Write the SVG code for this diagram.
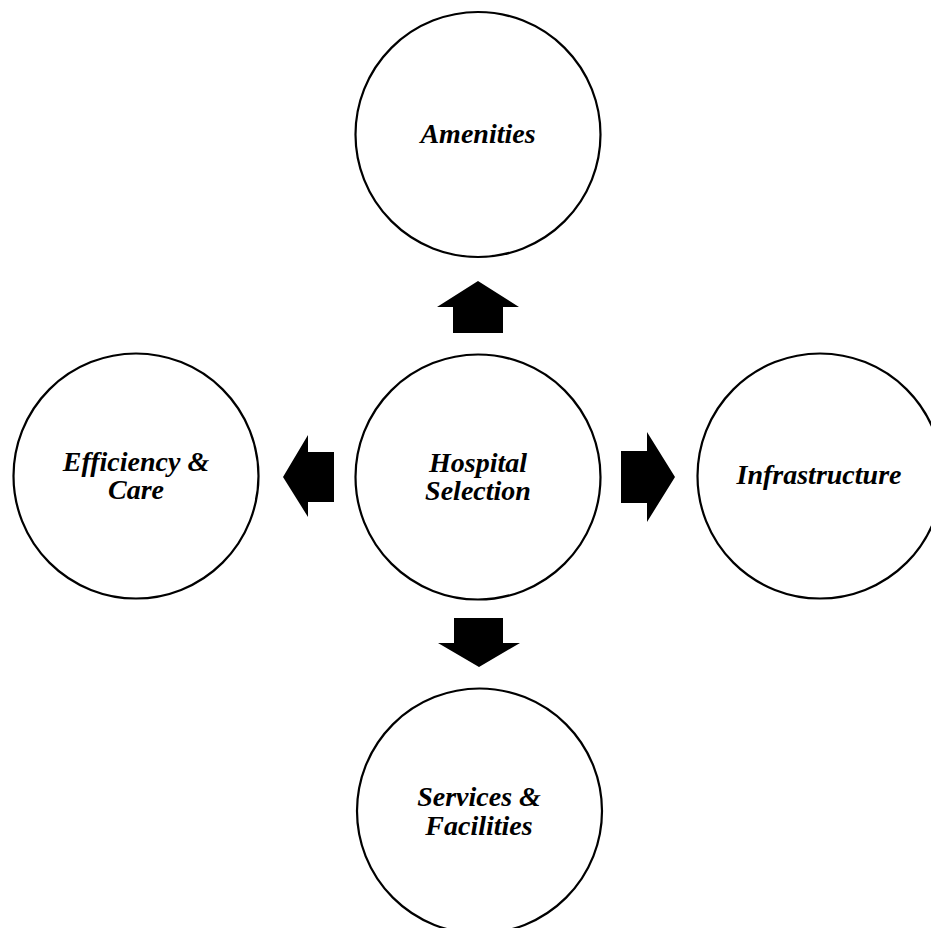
<svg xmlns="http://www.w3.org/2000/svg" width="931" height="928" viewBox="0 0 931 928">
<style>
.node circle{fill:#fff;stroke:#000;stroke-width:2.2}
.node text{font-family:"Liberation Serif","Times New Roman",serif;font-weight:bold;font-style:italic;font-size:28px;fill:#000;text-anchor:middle}
.arrow{fill:#000;stroke:none}
</style>
<rect width="931" height="928" fill="#fff"/>
<g id="connectors">
<polygon class="arrow" points="478,281 519,307 503,307 503,333 453,333 453,307 437,307"/>
<polygon class="arrow" points="479,667 520,643 503,643 503,618 454,618 454,643 438,643"/>
<polygon class="arrow" points="283,477 308,435 308,452 334,452 334,502 308,502 308,517"/>
<polygon class="arrow" points="675,477 647,432 647,451 621,451 621,503 647,503 647,522"/>
</g>
<g id="amenities" class="node">
<circle cx="478" cy="134.5" r="122.5"/>
<text x="478" y="143">Amenities</text>
</g>
<g id="hospital-selection" class="node">
<circle cx="478" cy="477" r="122.5"/>
<text x="478" y="472">Hospital</text>
<text x="478" y="500">Selection</text>
</g>
<g id="efficiency-care" class="node">
<circle cx="136" cy="476" r="122.5"/>
<text x="136" y="471">Efficiency &amp;</text>
<text x="136" y="499">Care</text>
</g>
<g id="infrastructure" class="node">
<circle cx="820" cy="476" r="122.5"/>
<text x="819" y="484">Infrastructure</text>
</g>
<g id="services-facilities" class="node">
<circle cx="479.5" cy="811" r="122.5"/>
<text x="479" y="806">Services &amp;</text>
<text x="479" y="835">Facilities</text>
</g>
</svg>
